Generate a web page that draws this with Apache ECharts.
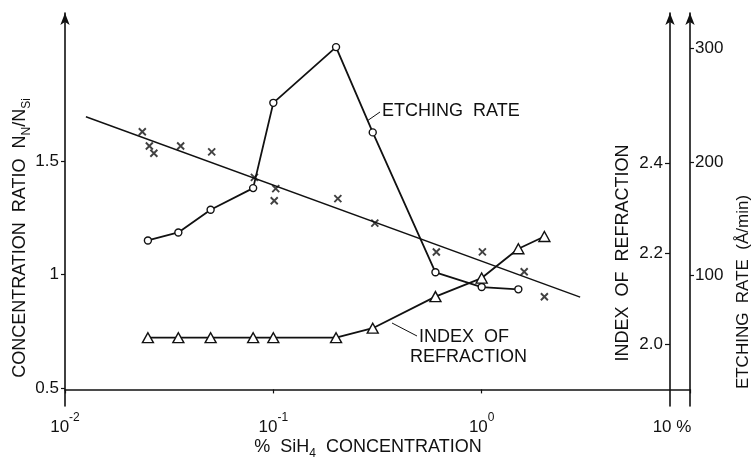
<!DOCTYPE html>
<html>
<head>
<meta charset="utf-8">
<script src="https://cdn.jsdelivr.net/npm/echarts@6/dist/echarts.min.js"></script>
<style>
html, body { margin: 0; padding: 0; background: #fff; }
#chart { width: 753px; height: 458px; }
</style>
</head>
<body>
<div id="chart"></div>
<script>
// SiH4 concentration (%) of the deposition gas for each film
const sih4Pct = [0.025, 0.035, 0.05, 0.08, 0.1, 0.2, 0.3, 0.6, 1.0, 1.5];
// Etching rate (Å/min)
const etchingRate = [131, 138, 158, 177, 252, 301, 226, 103, 90, 88];
// Index of refraction
const refrPct = [0.025, 0.035, 0.05, 0.08, 0.1, 0.2, 0.3, 0.6, 1.0, 1.5, 2.0];
const refrIndex = [2.014, 2.014, 2.014, 2.014, 2.014, 2.014, 2.035, 2.105, 2.146, 2.211, 2.238];
// Concentration ratio N_N / N_Si (measured points)
const ratioPct = [0.0235, 0.0254, 0.0267, 0.0359, 0.0506, 0.0811, 0.1027, 0.101, 0.204, 0.307, 0.606, 1.008, 1.60, 2.0];
const ratioVal = [1.629, 1.566, 1.534, 1.566, 1.540, 1.428, 1.378, 1.325, 1.334, 1.226, 1.099, 1.100, 1.012, 0.902];
// Straight-line fit through the ratio points
const fitPct = [0.0126, 2.97];
const fitVal = [1.695, 0.900];
// Tick labels
const ratioTicks = [0.5, 1, 1.5];
const ratioTickText = ['0.5', '1', '1.5'];
const refrTicks = [2.0, 2.2, 2.4];
const refrTickText = ['2.0', '2.2', '2.4'];
const etchTicks = [100, 200, 300];
const etchTickText = ['100', '200', '300'];
const xExp = { 0.01: '-2', 0.1: '-1', 1: '0' };

const FONT = 'Liberation Sans';
const INK = '#111';

const pair = (xs, ys) => xs.map((x, i) => [x, ys[i]]);

const chart = echarts.init(document.getElementById('chart'), null, { renderer: 'canvas' });

const axisLineStyle = { color: INK, width: 1.6 };
const tickLabel = { color: INK, fontFamily: FONT, fontSize: 17 };

const option = {
  backgroundColor: '#fff',
  animation: false,
  grid: { left: 65, right: 63, top: 13, bottom: 52, containLabel: false },
  xAxis: {
    type: 'log', logBase: 10, min: 0.01, max: 10,
    axisLine: { show: true, lineStyle: axisLineStyle },
    axisTick: { show: true, length: 4, lineStyle: { color: INK, width: 1.2 } },
    minorTick: { show: false },
    splitLine: { show: false },
    axisLabel: {
      margin: 6,
      formatter: v => {
        const e = xExp[+v.toPrecision(3)];
        return e === undefined ? '' : '{b|10}{s|' + e + '}';
      },
      rich: {
        b: { fontFamily: FONT, fontSize: 17, color: INK, lineHeight: 24, verticalAlign: 'bottom' },
        s: { fontFamily: FONT, fontSize: 12, color: INK, lineHeight: 24, verticalAlign: 'top' }
      }
    }
  },
  yAxis: [
    {
      type: 'value', position: 'left', min: 0.4207, max: 2.152,
      axisLine: { show: true, lineStyle: axisLineStyle, symbol: ['none', 'arrow'], symbolSize: [7, 12] },
      axisTick: { show: true, length: 4, customValues: ratioTicks, lineStyle: { color: INK, width: 1.2 } },
      splitLine: { show: false },
      axisLabel: Object.assign({ customValues: ratioTicks, margin: 6,
        formatter: v => ratioTickText[ratioTicks.indexOf(v)] }, tickLabel)
    },
    {
      type: 'value', position: 'right', offset: -20, min: 1.8627, max: 2.733,
      axisLine: { show: true, lineStyle: axisLineStyle, symbol: ['none', 'arrow'], symbolSize: [7, 12] },
      axisTick: { show: true, inside: true, length: 5, customValues: refrTicks, lineStyle: { color: INK, width: 1.2 } },
      splitLine: { show: false },
      axisLabel: Object.assign({ customValues: refrTicks, inside: true, margin: 7,
        formatter: v => refrTickText[refrTicks.findIndex(t => Math.abs(t - v) < 1e-6)] }, tickLabel)
    },
    {
      type: 'value', position: 'right', offset: 0, min: -14.6, max: 331,
      axisLine: { show: true, lineStyle: axisLineStyle, symbol: ['none', 'arrow'], symbolSize: [7, 12] },
      axisTick: { show: true, length: 4, customValues: etchTicks, lineStyle: { color: INK, width: 1.2 } },
      splitLine: { show: false },
      axisLabel: Object.assign({ customValues: etchTicks, margin: 5,
        formatter: v => etchTickText[etchTicks.indexOf(v)] }, tickLabel)
    }
  ],
  series: [
    {
      name: 'fit', type: 'line', xAxisIndex: 0, yAxisIndex: 0,
      data: pair(fitPct, fitVal), showSymbol: false, symbol: 'none',
      lineStyle: { color: INK, width: 1.4 }, z: 2
    },
    {
      name: 'ratio', type: 'scatter', xAxisIndex: 0, yAxisIndex: 0,
      data: pair(ratioPct, ratioVal),
      symbol: 'path://M0,0L10,10M10,0L0,10', symbolSize: 7,
      itemStyle: { color: 'none', borderColor: INK, borderWidth: 1.9 }, z: 3
    },
    {
      name: 'etching', type: 'line', xAxisIndex: 0, yAxisIndex: 2,
      data: pair(sih4Pct, etchingRate),
      symbol: 'circle', symbolSize: 7,
      itemStyle: { color: '#fff', borderColor: INK, borderWidth: 1.4 },
      lineStyle: { color: INK, width: 1.8 }, z: 4
    },
    {
      name: 'refraction', type: 'line', xAxisIndex: 0, yAxisIndex: 1,
      data: pair(refrPct, refrIndex),
      symbol: 'triangle', symbolSize: [11, 10],
      itemStyle: { color: '#fff', borderColor: INK, borderWidth: 1.4 },
      lineStyle: { color: INK, width: 1.8 }, z: 4
    }
  ],
  graphic: [
    { type: 'text', x: 20, y: 238, rotation: Math.PI / 2,
      style: { text: '{a|CONCENTRATION  RATIO  N}{s|N}{a|/N}{s|Si}', align: 'center', verticalAlign: 'middle',
        rich: {
          a: { fontFamily: FONT, fontSize: 18, fill: INK, lineHeight: 26, verticalAlign: 'middle' },
          s: { fontFamily: FONT, fontSize: 12, fill: INK, lineHeight: 14, verticalAlign: 'bottom' }
        } } },
    { type: 'text', x: 623, y: 253, rotation: Math.PI / 2,
      style: { text: 'INDEX  OF  REFRACTION', fontFamily: FONT, fontSize: 18, fill: INK, align: 'center', verticalAlign: 'middle' } },
    { type: 'text', x: 743, y: 292, rotation: Math.PI / 2,
      style: { text: 'ETCHING  RATE  (Å/min)', fontFamily: FONT, fontSize: 17, fill: INK, align: 'center', verticalAlign: 'middle' } },
    { type: 'text', x: 368, y: 447,
      style: { text: '{a|%  SiH}{s|4}{a|  CONCENTRATION}', align: 'center', verticalAlign: 'middle',
        rich: {
          a: { fontFamily: FONT, fontSize: 18, fill: INK, lineHeight: 26, verticalAlign: 'middle' },
          s: { fontFamily: FONT, fontSize: 12, fill: INK, lineHeight: 14, verticalAlign: 'bottom' }
        } } },
    { type: 'text', x: 672, y: 427,
      style: { text: '10 %', fontFamily: FONT, fontSize: 17, fill: INK, align: 'center', verticalAlign: 'middle' } },
    { type: 'text', x: 382, y: 111,
      style: { text: 'ETCHING  RATE', fontFamily: FONT, fontSize: 18, fill: INK, align: 'left', verticalAlign: 'middle' } },
    { type: 'line', shape: { x1: 367, y1: 121, x2: 380, y2: 112 }, style: { stroke: INK, lineWidth: 1 } },
    { type: 'text', x: 419, y: 337,
      style: { text: 'INDEX  OF', fontFamily: FONT, fontSize: 18, fill: INK, align: 'left', verticalAlign: 'middle' } },
    { type: 'text', x: 410, y: 357,
      style: { text: 'REFRACTION', fontFamily: FONT, fontSize: 18, fill: INK, align: 'left', verticalAlign: 'middle' } },
    { type: 'line', shape: { x1: 392, y1: 323, x2: 417, y2: 336 }, style: { stroke: INK, lineWidth: 1 } }
  ]
};

chart.setOption(option);
</script>
</body>
</html>
